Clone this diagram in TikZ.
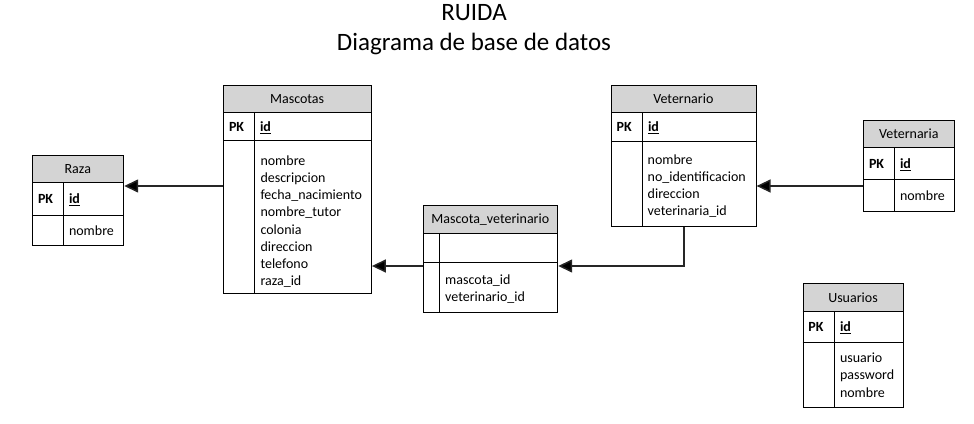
\documentclass[tikz,border=0pt]{standalone}
\usepackage{fontspec}
\setmainfont{Carlito}
\usetikzlibrary{arrows.meta}
\definecolor{hdrgray}{RGB}{212,212,212}
\tikzset{
  tbl/.style={draw=black, line width=0.9pt},
  tblbox/.style={draw=black, line width=0.9pt, inner sep=0pt, anchor=north west},
  txt/.style={inner sep=0pt, font=\fontsize{14}{17.2}\selectfont},
  ttl/.style={inner sep=0pt, anchor=base, font=\fontsize{25}{30}\selectfont},
  conn/.style={line width=1.5pt, draw=black!85, -{Triangle[length=14pt,width=13pt,fill=black]}}
}
\newcommand\erbox[9]{%
  \fill[hdrgray] (#2,#4) rectangle (#3,#5);
  \node[tblbox, minimum width={(#3-#2)*1pt}, minimum height={(#7-#4)*1pt}] (#1) at (#2,#4) {};
  \draw[tbl] (#2,#5) -- (#3,#5) (#2,#6) -- (#3,#6) (#8,#5) -- (#8,#7);
  \node[txt, anchor=base] (#1-title) at ({(#2+#3)/2},{(#4+#5)/2+4.6}) {#9};
}
\newcommand\erpk[5]{%
  \node[txt, anchor=base west] (#1-pk) at ({#2+5.5},{(#4+#5)/2+4.7}) {\textbf{PK}};
  \node[txt, anchor=base west] (#1-id) at ({#3+5.5},{(#4+#5)/2+4.7}) {\textbf{\underline{id}}};
}
\newcommand\erfields[4]{%
  \foreach \f [count=\i] in {#4}
    \node[txt, anchor=base west] (#1-f\i) at (#2,{#3+(\i-1)*17.2}) {\f};
}
\begin{document}
\begin{tikzpicture}[x=1pt,y=-1pt]
\useasboundingbox (0,0) rectangle (974,423);
\node[ttl] (t1) at (474,20) {RUIDA};
\node[ttl] (t2) at (474,50) {Diagrama de base de datos};

% Raza
\erbox{Raza}{32.3}{123.3}{155}{182.7}{215}{245}{63.3}{Raza}
\erpk{Raza}{32.3}{63.3}{182.7}{215}
\erfields{Raza}{68.8}{235.7}{nombre}

% Mascotas
\erbox{Masc}{223.3}{371}{85}{112.7}{140.7}{293.3}{254.3}{Mascotas}
\erpk{Masc}{223.3}{254.3}{112.7}{140.7}
\erfields{Masc}{260.3}{165.3}{nombre,descripcion,fecha\_nacimiento,nombre\_tutor,colonia,direccion,telefono,raza\_id}

% Mascota_veterinario
\erbox{MV}{423.3}{557.3}{205}{233.3}{262.7}{311.7}{439.3}{Mascota\_veterinario}
\erfields{MV}{445}{284.5}{mascota\_id,veterinario\_id}

% Veternario
\erbox{Vet}{611}{755.7}{85}{112.7}{141}{225.7}{642.3}{Veternario}
\erpk{Vet}{611}{642.3}{112.7}{141}
\erfields{Vet}{647.5}{164}{nombre,no\_identificacion,direccion,veterinaria\_id}

% Veternaria
\erbox{Vtria}{863.3}{954.3}{120}{147.7}{179.3}{210.7}{894.3}{Veternaria}
\erpk{Vtria}{863.3}{894.3}{147.7}{179.3}
\erfields{Vtria}{899.8}{200.7}{nombre}

% Usuarios
\erbox{Usr}{802.7}{903.3}{283.3}{311.7}{342.3}{406.7}{834.3}{Usuarios}
\erpk{Usr}{802.7}{834.3}{311.7}{342.3}
\erfields{Usr}{839.8}{362.7}{usuario,password,nombre}

% connectors
\draw[conn] (Masc.west |- 0,186) -- (Raza.east |- 0,186);
\draw[conn] (Vtria.west |- 0,186) -- (Vet.east |- 0,186);
\draw[conn] (MV.west |- 0,266) -- (Masc.east |- 0,266);
\draw[conn] (Vet.south -| 684,0) |- (MV.east |- 0,266);
\end{tikzpicture}
\end{document}
